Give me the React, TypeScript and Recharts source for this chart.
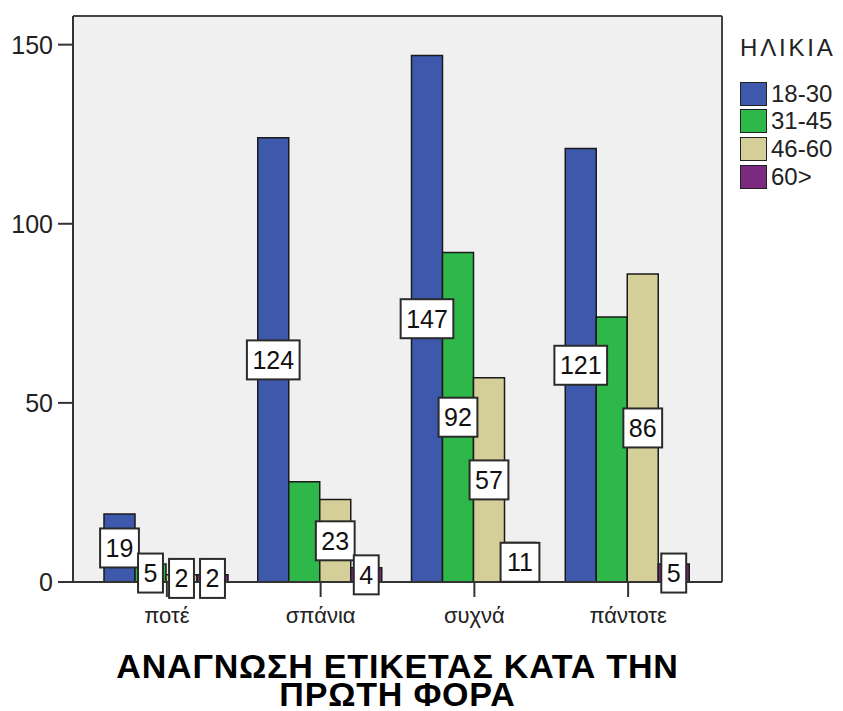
import React from "react";
import { BarChart, Bar, XAxis, YAxis, CartesianGrid, LabelList } from "recharts";

// Frequency of reading the label, by age group
const categories = ["ποτέ", "σπάνια", "συχνά", "πάντοτε"];
const age18to30 = [19, 124, 147, 121];
const age31to45 = [5, 28, 92, 74];
const age46to60 = [2, 23, 57, 86];
const age60plus = [2, 4, 11, 5];
const yTicks = [0, 50, 100, 150];

// Value labels the chart leaves out (category names), per age group
const hiddenLabels18to30: string[] = [];
const hiddenLabels31to45 = ["σπάνια", "πάντοτε"];
const hiddenLabels46to60: string[] = [];
const hiddenLabels60plus: string[] = [];

const legendTitle = "ΗΛΙΚΙΑ";
const titleLines = ["ΑΝΑΓΝΩΣΗ ΕΤΙΚΕΤΑΣ ΚΑΤΑ ΤΗΝ", "ΠΡΩΤΗ ΦΟΡΑ"];

const series = [
  { key: "g1", name: "18-30", values: age18to30, hidden: hiddenLabels18to30, color: "#3E58AC" },
  { key: "g2", name: "31-45", values: age31to45, hidden: hiddenLabels31to45, color: "#2EB84A" },
  { key: "g3", name: "46-60", values: age46to60, hidden: hiddenLabels46to60, color: "#D4CF98" },
  { key: "g4", name: "60>", values: age60plus, hidden: hiddenLabels60plus, color: "#7B2A80" },
];

const data = categories.map((category, i) => {
  const row: Record<string, string | number> = { category };
  series.forEach((s) => {
    row[s.key] = s.values[i];
  });
  return row;
});

const FONT = '"Liberation Sans", Arial, Helvetica, sans-serif';
const AXIS_COLOR = "#333333";

const W = 843;
const H = 711;

function makeValueBox(hidden: string[]) {
  return function ValueBox(props: any) {
    const { x, y, width, height, value, index } = props;
    if (value == null) return null;
    if (hidden.includes(categories[index])) return null;
    const cx = Number(x) + Number(width) / 2;
    const cy = Number(y) + Number(height) / 2;
    const text = String(value);
    const w = text.length * 13.9 + 11;
    const h = 39;
    return (
      <g>
        <rect
          x={cx - w / 2}
          y={cy - h / 2}
          width={w}
          height={h}
          fill="#ffffff"
          stroke="#2b2b2b"
          strokeWidth={2}
        />
        <text
          x={cx}
          y={cy}
          dy="0.36em"
          textAnchor="middle"
          fontFamily={FONT}
          fontSize={25}
          fill="#111111"
        >
          {text}
        </text>
      </g>
    );
  };
}

export default function App() {
  return (
    <div style={{ position: "absolute", left: 0, top: 0, width: W, height: H, background: "#ffffff", fontFamily: FONT }}>
      <BarChart
        width={W}
        height={H}
        data={data}
        margin={{ top: 16, right: 121, left: 0, bottom: 0 }}
        barCategoryGap={14}
        barGap={0}
      >
        <CartesianGrid
          fill="#F0F0F0"
          stroke="#444444"
          strokeWidth={2}
          horizontalCoordinatesGenerator={({ offset }: any) => [offset.top, offset.top + offset.height]}
          verticalCoordinatesGenerator={({ offset }: any) => [offset.left, offset.left + offset.width]}
        />
        <XAxis
          dataKey="category"
          height={129}
          padding={{ left: 17, right: 17 }}
          axisLine={{ stroke: AXIS_COLOR, strokeWidth: 2 }}
          tickLine={{ stroke: AXIS_COLOR, strokeWidth: 2 }}
          tickSize={15}
          tickMargin={10}
          tick={{ fill: "#222222", fontSize: 22, fontFamily: FONT }}
          interval={0}
        />
        <YAxis
          width={73}
          domain={[0, 158]}
          ticks={yTicks}
          allowDataOverflow
          axisLine={{ stroke: AXIS_COLOR, strokeWidth: 2 }}
          tickLine={{ stroke: AXIS_COLOR, strokeWidth: 2 }}
          tickSize={15}
          tickMargin={5}
          tick={{ fill: "#222222", fontSize: 25, fontFamily: FONT }}
        />
        {series.map((s) => (
          <Bar
            key={s.key}
            dataKey={s.key}
            name={s.name}
            fill={s.color}
            stroke="#1a1a1a"
            strokeWidth={1.5}
            isAnimationActive={false}
          >
            <LabelList dataKey={s.key} content={makeValueBox(s.hidden)} />
          </Bar>
        ))}
      </BarChart>

      {/* Legend */}
      <div style={{ position: "absolute", left: 740, top: 33 }}>
        <div style={{ fontSize: 24, letterSpacing: 2.8, color: "#222", lineHeight: "30px", marginBottom: 17 }}>
          {legendTitle}
        </div>
        {series.map((s) => (
          <div key={s.key} style={{ display: "flex", alignItems: "center", height: 27.6 }}>
            <div
              style={{
                width: 25,
                height: 22,
                background: s.color,
                border: "1.5px solid #222",
                boxSizing: "content-box",
                marginRight: 4,
              }}
            />
            <span style={{ fontSize: 24, color: "#222", lineHeight: "26px" }}>{s.name}</span>
          </div>
        ))}
      </div>

      {/* Title */}
      <div
        style={{
          position: "absolute",
          left: 73,
          width: 649,
          top: 652,
          textAlign: "center",
          fontWeight: "bold",
          fontSize: 34,
          lineHeight: "28px",
          letterSpacing: 0.8,
          color: "#000",
          whiteSpace: "nowrap",
        }}
      >
        {titleLines.map((t) => (
          <div key={t}>{t}</div>
        ))}
      </div>
    </div>
  );
}
